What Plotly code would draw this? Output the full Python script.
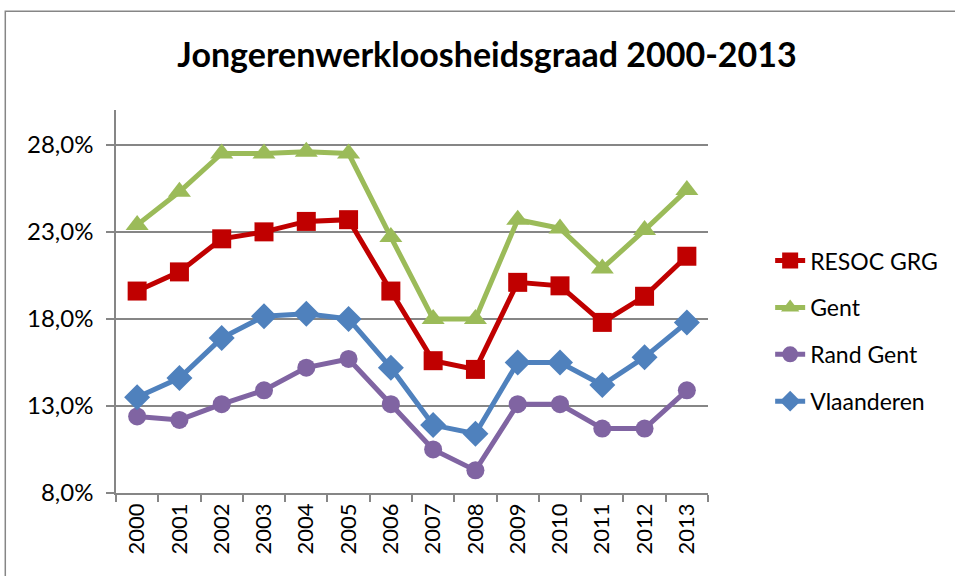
import plotly.graph_objects as go

# jaren
years = [str(y) for y in range(2000, 2014)]

# werkloosheidsgraad jongeren (%)
resoc_grg = [19.6, 20.7, 22.6, 23.0, 23.6, 23.7, 19.6, 15.6, 15.1, 20.1, 19.9, 17.8, 19.3, 21.6]
gent = [23.4, 25.3, 27.5, 27.5, 27.6, 27.5, 22.7, 18.0, 18.0, 23.7, 23.2, 20.9, 23.1, 25.4]
rand_gent = [12.4, 12.2, 13.1, 13.9, 15.2, 15.7, 13.1, 10.5, 9.3, 13.1, 13.1, 11.7, 11.7, 13.9]
vlaanderen = [13.5, 14.6, 16.9, 18.15, 18.3, 18.0, 15.2, 11.9, 11.4, 15.5, 15.5, 14.2, 15.8, 17.8]

series = [
    ("RESOC GRG", resoc_grg, "#C00000", "square", 19),
    ("Gent", gent, "#9BBB59", "triangle-up", 20),
    ("Rand Gent", rand_gent, "#8064A2", "circle", 18),
    ("Vlaanderen", vlaanderen, "#4F81BD", "diamond", 20),
]

fig = go.Figure()
for name, vals, color, symbol, size in series:
    fig.add_trace(go.Scatter(
        x=years, y=vals, name=name, mode="lines+markers", legendgroup=name,
        line=dict(color=color, width=5),
        marker=dict(symbol=symbol, size=size, color=color, line=dict(width=0)),
    ))

fig.update_layout(
    width=955, height=576,
    paper_bgcolor="white", plot_bgcolor="white",
    font=dict(family="Lato, Carlito, Calibri, sans-serif", size=22, color="black"),
    separators=",.",
    margin=dict(l=116, r=240, t=110, b=83),
    title=dict(text="<b>Jongerenwerkloosheidsgraad 2000-2013</b>", x=0.51, xanchor="center",
               y=0.905, yanchor="middle", font=dict(size=34)),
    legend=dict(x=1.105, y=0.663, xanchor="left", yanchor="top", font=dict(size=23),
                tracegroupgap=14, itemsizing="trace", bgcolor="rgba(0,0,0,0)"),
    showlegend=True,
)

fig.update_xaxes(
    type="category", range=[-0.5, len(years) - 0.5],
    showline=True, linecolor="#868686", linewidth=1.5,
    ticks="outside", tickson="boundaries", ticklen=7, tickcolor="#868686", tickwidth=1.5,
    tickangle=-90, showgrid=False, tickfont=dict(size=22), automargin=False,
)
fig.update_yaxes(
    range=[8, 30], tick0=8, dtick=5, tickformat=".1f", ticksuffix="%",
    showline=True, linecolor="#868686", linewidth=1.5,
    ticks="outside", ticklen=8, tickcolor="#868686", tickwidth=1.5, ticklabelstandoff=8,
    showgrid=True, gridcolor="#868686", gridwidth=1.5, zeroline=False,
    tickfont=dict(size=24), automargin=False,
)

# rand rond de grafiek
fig.add_shape(type="rect", xref="paper", yref="paper", x0=-0.187, y0=-1, x1=3, y1=1.258,
              line=dict(color="#868686", width=1.5), fillcolor="rgba(0,0,0,0)", layer="below")

fig.write_html("out.html", config={"displayModeBar": False},
               post_script="document.body.style.margin='0';")
